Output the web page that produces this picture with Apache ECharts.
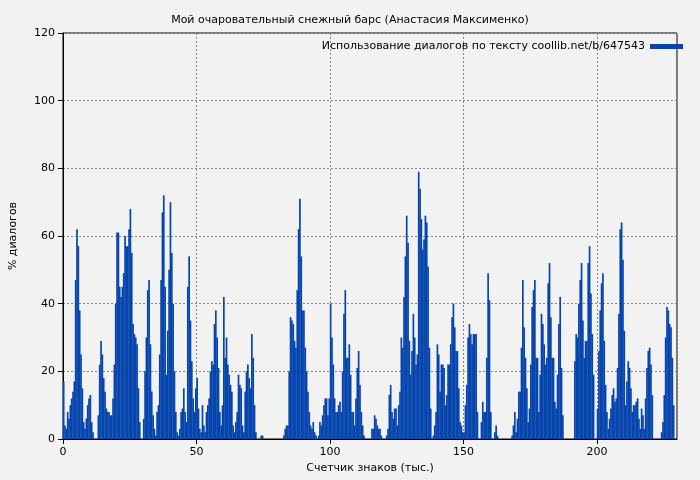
<!DOCTYPE html>
<html>
<head>
<meta charset="utf-8">
<script src="https://cdn.jsdelivr.net/npm/echarts@6/dist/echarts.min.js"></script>
<style>html,body{margin:0;padding:0;background:#f2f2f2;}</style>
</head>
<body>
<div id="chart" style="width:700px;height:480px;"></div>
<script>
// dialogue share per 0.5k characters
const step = 0.5;
const values = [
  17,4,3,8,6,10,12,14,17,47,62,57,38,25,15,5,3,6,10,12,
  13,5,2,0,0,0,7,22,29,25,18,14,9,8,8,7,7,12,22,40,
  61,61,45,42,45,49,60,57,57,62,68,55,34,31,30,28,15,5,0,0,
  6,20,30,44,47,28,14,7,3,1,8,10,25,47,67,72,45,19,32,50,
  70,55,40,20,8,2,1,3,8,9,15,8,5,45,54,35,23,12,8,15,
  18,9,3,2,10,4,2,8,10,12,20,23,22,34,38,30,21,8,4,10,
  42,24,30,22,19,16,14,4,2,5,8,19,16,15,4,2,14,20,22,18,
  15,31,24,10,2,0,0,0,1,1,0,0,0,0,0,0,0,0,0,0,
  0,0,0,0,0,1,3,4,4,20,36,35,34,29,27,44,62,71,54,38,
  38,27,20,14,8,4,3,5,2,1,0,1,5,4,7,10,12,12,7,12,
  40,30,22,12,8,8,10,11,8,20,37,44,24,24,28,19,8,8,4,12,
  21,26,16,8,4,1,0,0,0,0,0,3,3,7,6,4,3,3,1,0,
  0,0,1,3,13,16,8,6,9,9,4,10,14,30,27,42,54,66,58,29,
  19,26,37,30,22,25,79,74,65,56,59,66,64,51,27,9,0,1,4,8,
  28,25,14,22,22,21,10,13,22,22,28,36,40,33,26,26,15,5,4,2,
  2,10,16,30,34,31,28,31,31,31,8,0,0,5,11,8,8,24,49,41,
  8,0,0,2,4,1,0,0,0,0,0,0,0,0,0,0,1,4,8,2,
  6,14,14,27,47,33,24,15,5,9,22,39,44,47,24,24,8,19,37,34,
  28,22,24,46,52,36,24,24,11,9,19,34,42,21,7,0,0,0,0,0,
  0,0,0,23,31,30,40,47,52,35,24,29,29,52,57,43,31,19,0,0,
  9,26,38,46,49,29,16,8,3,6,9,13,15,11,12,21,37,62,64,53,
  32,10,17,23,21,15,8,10,10,11,12,6,3,9,7,3,12,21,26,27,
  22,13,0,0,0,0,0,0,2,5,13,30,39,38,34,33,24,10,0,0
];
const seriesName = "Использование диалогов по тексту coollib.net/b/647543";
const titleText = "Мой очаровательный снежный барс (Анастасия Максименко)";

const points = values.map((v, i) => [i * step + step / 2, v]);
const font = "DejaVu Sans";

const chart = echarts.init(document.getElementById("chart"));
chart.setOption({
  backgroundColor: "#f2f2f2",
  animation: false,
  textStyle: { fontFamily: font },
  title: {
    text: titleText, left: "center", top: 10,
    textStyle: { fontSize: 11, fontWeight: "normal", color: "#000", fontFamily: font }
  },
  legend: {
    right: 12, top: 36, align: "right", itemWidth: 33, itemHeight: 5, itemGap: 5,
    textStyle: { fontSize: 11, color: "#000", fontFamily: font },
    data: [{ name: seriesName, icon: "rect" }]
  },
  grid: { left: 60, right: 23, top: 33, bottom: 41, show: true, borderColor: "#000", borderWidth: 1 },
  xAxis: {
    type: "value", min: 0, max: 230, interval: 50,
    name: "Счетчик знаков (тыс.)", nameLocation: "middle", nameGap: 24,
    nameTextStyle: { fontSize: 11, color: "#000" },
    axisLine: { lineStyle: { color: "#000" } },
    axisTick: { lineStyle: { color: "#000" } },
    axisLabel: { fontSize: 11, color: "#000", showMaxLabel: false },
    splitLine: { show: true, lineStyle: { type: [2, 2], color: "#888" } }
  },
  yAxis: {
    type: "value", min: 0, max: 120, interval: 20,
    name: "% диалогов", nameLocation: "middle", nameGap: 44,
    nameTextStyle: { fontSize: 11, color: "#000" },
    axisLine: { show: true, lineStyle: { color: "#000" } },
    axisTick: { show: true, lineStyle: { color: "#000" } },
    axisLabel: { fontSize: 11, color: "#000" },
    splitLine: { show: true, lineStyle: { type: [2, 2], color: "#888" } }
  },
  series: [{
    name: seriesName, type: "bar", data: points,
    barWidth: 1.7, itemStyle: { color: "#0645ad" }
  }]
});
</script>
</body>
</html>
